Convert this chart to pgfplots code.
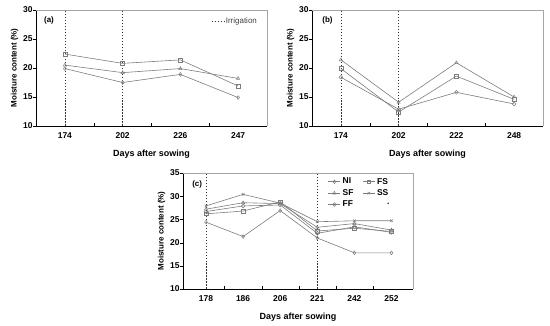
\documentclass[border=0pt]{standalone}
\usepackage{pgfplots}
\pgfplotsset{compat=1.18}
\usepackage{fontspec}
\setmainfont{Liberation Sans}
\definecolor{ln}{RGB}{125,125,125}
\pgfplotsset{
  panel/.style={
    scale only axis, anchor=south west,
    width=231bp, height=116bp,
    axis x line*=bottom, axis y line*=left,
    axis line style={black, line width=0.5pt},
    after end axis/.code={\draw[gray!70, line width=0.4pt] (rel axis cs:0,1) -- (rel axis cs:1,1) -- (rel axis cs:1,0);},
    ymin=10, 
    tick align=inside,
    major tick length=3bp, minor tick length=3bp,
    ytick style={xshift=-3bp, black},
    major x tick style={draw=none},
    minor x tick style={black},
    /pgf/number format/assume math mode=true,
    tick label style={font=\bfseries\fontsize{8.5}{10}\selectfont},
    xticklabel style={yshift=-3bp},
    xlabel={Days after sowing},
    ylabel={Moisture content (\%)},
    xlabel style={font=\bfseries\fontsize{9}{10}\selectfont, yshift=-5bp},
    ylabel style={font=\bfseries\fontsize{8}{10}\selectfont, yshift=-2bp},
    clip=false,
  },
  ser/.style={color=ln, line width=0.6pt, mark size=1.9pt, mark options={fill=white, solid, line width=0.5pt}},
  irr/.style={black!80, line width=0.5pt, dash pattern=on 1.6pt off 1.4pt, no marks},
}
\begin{document}
\begin{tikzpicture}
\useasboundingbox (0,0) rectangle (550bp,326bp);
% (a)
\begin{axis}[panel, at={(36bp,200bp)},
  xmin=-0.5, xmax=3.5, xtick={0,1,2,3}, xticklabels={174,202,226,247},
  minor xtick={0.5,1.5,2.5}, ymax=30, ytick={10,15,20,25,30},
  legend style={at={(0.97,0.96)}, anchor=north east, draw=none, fill=none,
    font=\fontsize{8}{9}\selectfont, inner sep=1pt, text=black!75},
  legend cell align=left,
  legend image code/.code={\draw[#1] (0bp,0bp) -- (12bp,0bp);}]
\addplot[irr] coordinates {(0,10) (0,30)};
\addlegendentry{Irrigation}
\addplot[irr, forget plot] coordinates {(1,10) (1,30)};
\addplot[ser, mark=square, forget plot] coordinates {(0,22.4) (1,20.8) (2,21.4) (3,16.9)};
\addplot[ser, mark=triangle, forget plot] coordinates {(0,20.5) (1,19.2) (2,19.9) (3,18.2)};
\addplot[ser, mark=diamond, forget plot] coordinates {(0,19.9) (1,17.5) (2,18.9) (3,14.9)};
\node[anchor=west, font=\bfseries\fontsize{8}{9}\selectfont] at (axis description cs:0.02,0.91) {(a)};
\end{axis}
% (b)
\begin{axis}[panel, at={(312bp,200bp)},
  xmin=-0.5, xmax=3.5, xtick={0,1,2,3}, xticklabels={174,202,222,248},
  minor xtick={0.5,1.5,2.5}, ymax=30, ytick={10,15,20,25,30}]
\addplot[irr] coordinates {(0,10) (0,30)};
\addplot[irr] coordinates {(1,10) (1,30)};
\addplot[ser, mark=triangle] coordinates {(0,21.4) (1,14.1) (2,20.9) (3,15.0)};
\addplot[ser, mark=square] coordinates {(0,19.9) (1,12.4) (2,18.6) (3,14.6)};
\addplot[ser, mark=o] coordinates {(0,18.4) (1,12.9) (2,15.8) (3,13.8)};
\node[anchor=west, font=\bfseries\fontsize{8}{9}\selectfont] at (axis description cs:0.03,0.91) {(b)};
\end{axis}
% (c)
\begin{axis}[panel, at={(183bp,37bp)}, width=230bp,
  xmin=-0.62, xmax=5.58, xtick={0,1,2,3,4,5}, xticklabels={178,186,206,221,242,252},
  minor xtick={0.5,1.5,2.5,3.5,4.5}, ymax=35, ytick={10,15,20,25,30,35},
  legend columns=2,
  legend style={at={(0.63,0.975)}, anchor=north west, draw=none, fill=none,
    font=\bfseries\fontsize{8.5}{10}\selectfont, inner sep=0pt, row sep=0bp,
    /tikz/every even column/.append style={column sep=7bp}},
  legend cell align=left,
  legend image code/.code={\draw[mark repeat=2, mark phase=2, #1] plot coordinates {(0bp,0bp) (6bp,0bp) (12bp,0bp)};}]
\addplot[irr, forget plot] coordinates {(0,10) (0,35)};
\addplot[irr, forget plot] coordinates {(3,10) (3,35)};
\addplot[ser, mark=diamond] coordinates {(0,24.4) (1,21.3) (2,26.9) (3,21.0) (4,17.8) (5,17.8)};
\addlegendentry{NI}
\addplot[ser, mark=square] coordinates {(0,26.2) (1,26.8) (2,28.8) (3,22.5) (4,23.1) (5,22.4)};
\addlegendentry{FS}
\addplot[ser, mark=triangle] coordinates {(0,27.2) (1,28.6) (2,28.4) (3,23.3) (4,24.1) (5,22.7)};
\addlegendentry{SF}
\addplot[ser, mark=x] coordinates {(0,27.9) (1,30.4) (2,28.5) (3,24.5) (4,24.7) (5,24.7)};
\addlegendentry{SS}
\addplot[ser, mark=o] coordinates {(0,26.7) (1,27.9) (2,28.1) (3,22.0) (4,23.4) (5,22.2)};
\addlegendentry{FF}
\addlegendimage{empty legend}
\addlegendentry{\hspace{10bp}.}
\node[anchor=west, font=\bfseries\fontsize{8}{9}\selectfont] at (axis description cs:0.025,0.9) {(c)};
\end{axis}
\end{tikzpicture}
\end{document}
